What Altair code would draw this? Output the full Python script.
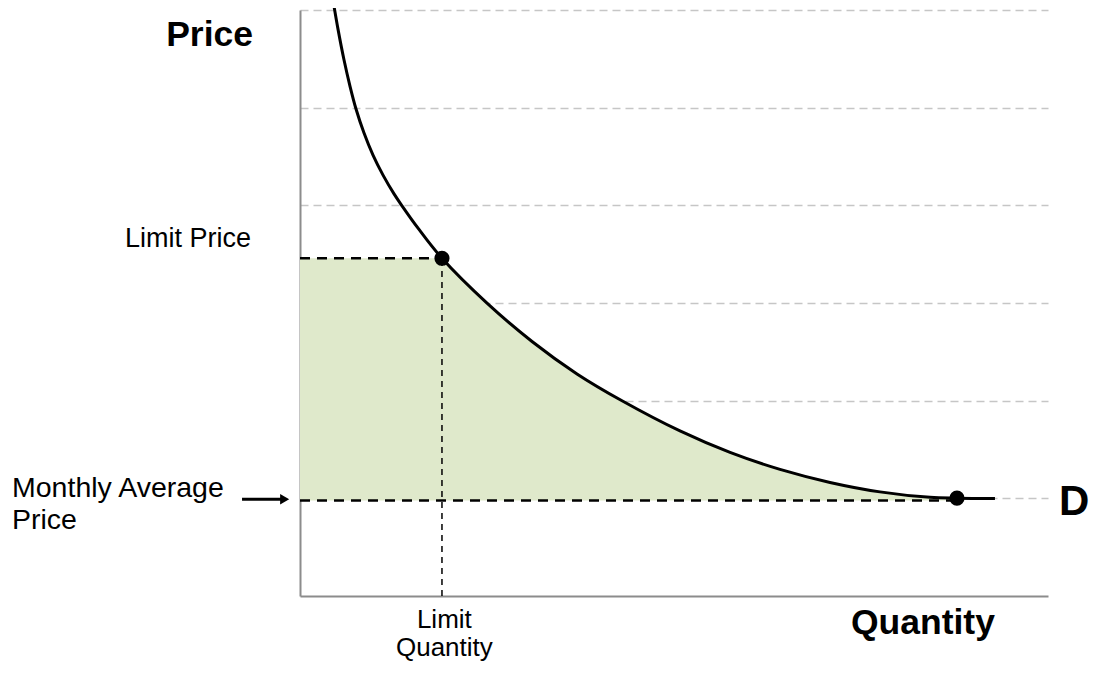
import altair as alt
import pandas as pd

# Demand curve (quantity, price in axis units)
quantity = [4.41, 5.08, 5.88, 6.68, 7.49, 8.56, 9.76, 11.10, 12.57, 13.64, 15.78,
            18.98, 25.00, 31.02, 37.03, 43.05, 50.80, 57.49, 64.17, 70.86, 77.54,
            84.22, 87.83, 92.91]
price = [6.101, 5.804, 5.490, 5.221, 4.986, 4.740, 4.514, 4.309, 4.117, 3.995, 3.766,
         3.458, 2.999, 2.606, 2.274, 1.999, 1.690, 1.470, 1.296, 1.163, 1.066,
         1.010, 1.002, 0.999]

limit_q = 18.98
limit_p = 3.458
avg_price = 0.978
end_q = 87.83
end_p = 1.002
grid_values = [1, 2, 3, 4, 5, 6]

# Annotation texts (positions in axis units)
bold_right_text = ["Price", "Quantity"]
bold_right_x = [-6.28, 92.9]
bold_right_y = [5.63, -0.384]

right_text = ["Limit Price"]
right_x = [-6.55]
right_y = [3.571]

left_text = ["Monthly Average", "Price"]
left_x = [-38.5, -38.5]
left_y = [1.01, 0.69]

center_text = ["Limit", "Quantity"]
center_x = [19.3, 19.3]
center_y = [-0.323, -0.61]

d_text = ["D"]
d_x = [101.47]
d_y = [0.825]

arrow_x = [-7.75]
arrow_x2 = [-2.3]
arrow_head_x = [-2.05]
arrow_y = [0.99]

FONT = "Liberation Sans"
FILL = "#dfe9cb"

xs = alt.Scale(domain=[0, 100], nice=False, zero=False)
ys = alt.Scale(domain=[0, 6], nice=False, zero=False)
xaxis = alt.Axis(title=None, labels=False, ticks=False, grid=False,
                 domainColor="#8c8c8c", domainWidth=2)
yaxis = alt.Axis(title=None, labels=False, ticks=False, grid=True, values=grid_values,
                 gridColor="#c6c6c6", gridDash=[8, 5], gridWidth=1.5,
                 domainColor="#8c8c8c", domainWidth=2)


def X(f):
    return alt.X(f, type="quantitative", scale=xs, axis=xaxis)


def Y(f):
    return alt.Y(f, type="quantitative", scale=ys, axis=yaxis)


curve_df = pd.DataFrame({"q": quantity, "p": price})

area_q = [q for q in quantity if limit_q <= q <= end_q]
area_p = [p for q, p in zip(quantity, price) if limit_q <= q <= end_q]
area_df = pd.DataFrame({"q": area_q, "p": area_p, "base": [avg_price] * len(area_q)})

area = alt.Chart(area_df).mark_area(color=FILL, interpolate="catmull-rom").encode(
    x=X("q"), y=Y("p"), y2="base:Q")

rect = alt.Chart(pd.DataFrame({"a": [0.0], "b": [limit_q], "c": [avg_price], "d": [limit_p]})).mark_rect(
    color=FILL).encode(x=X("a"), x2="b:Q", y=Y("c"), y2="d:Q")

limit_price_line = alt.Chart(pd.DataFrame({"a": [0.0], "b": [limit_q], "p": [limit_p]})).mark_rule(
    color="black", strokeWidth=2.5, strokeDash=[10, 7]).encode(x=X("a"), x2="b:Q", y=Y("p"))

limit_q_line = alt.Chart(pd.DataFrame({"q": [limit_q], "a": [0.0], "b": [limit_p]})).mark_rule(
    color="black", strokeWidth=1.5, strokeDash=[6, 5]).encode(x=X("q"), y=Y("a"), y2="b:Q")

avg_line = alt.Chart(pd.DataFrame({"a": [0.0], "b": [end_q], "p": [avg_price]})).mark_rule(
    color="black", strokeWidth=2.5, strokeDash=[10, 7]).encode(x=X("a"), x2="b:Q", y=Y("p"))

curve = alt.Chart(curve_df).mark_line(color="black", strokeWidth=3, interpolate="catmull-rom").encode(
    x=X("q"), y=Y("p"))

dots = alt.Chart(pd.DataFrame({"q": [limit_q, end_q], "p": [limit_p, end_p]})).mark_circle(
    color="black", opacity=1, size=230).encode(x=X("q"), y=Y("p"))

arrow_shaft = alt.Chart(pd.DataFrame({"a": arrow_x, "b": arrow_x2, "p": arrow_y})).mark_rule(
    color="black", strokeWidth=3).encode(x=X("a"), x2="b:Q", y=Y("p"))

arrow_head = alt.Chart(pd.DataFrame({"a": arrow_head_x, "p": arrow_y})).mark_point(
    shape="triangle-right", filled=True, color="black", opacity=1, size=110).encode(x=X("a"), y=Y("p"))


def text_layer(texts, xv, yv, size, weight, align):
    df = pd.DataFrame({"t": texts, "x": xv, "y": yv})
    return alt.Chart(df).mark_text(font=FONT, fontSize=size, fontWeight=weight, align=align,
                                   baseline="alphabetic", color="black").encode(
        x=X("x"), y=Y("y"), text="t:N")


texts = [
    text_layer(bold_right_text, bold_right_x, bold_right_y, 35.5, "bold", "right"),
    text_layer(right_text, right_x, right_y, 27, "normal", "right"),
    text_layer(left_text, left_x, left_y, 28.5, "normal", "left"),
    text_layer(center_text, center_x, center_y, 26, "normal", "center"),
    text_layer(d_text, d_x, d_y, 42, "bold", "left"),
]

chart = alt.layer(rect, area, limit_price_line, limit_q_line, avg_line, curve, dots,
                  arrow_shaft, arrow_head, *texts).properties(
    width=748, height=586,
    padding={"left": 292, "top": 2, "right": 41, "bottom": 68},
    autosize=alt.AutoSizeParams(type="none"),
).configure_view(strokeWidth=0)

chart.save("out.html", embed_options={"renderer": "svg", "actions": False})
